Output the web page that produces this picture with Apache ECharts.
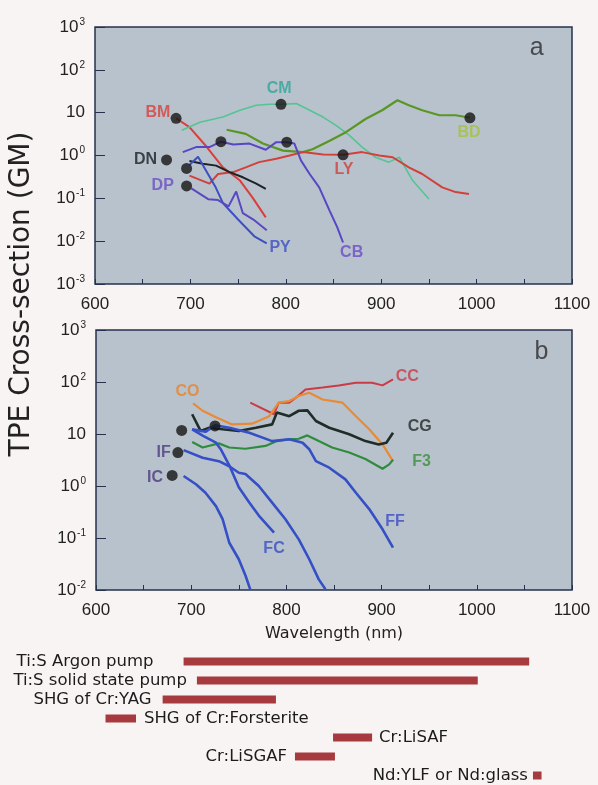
<!DOCTYPE html>
<html>
<head>
<meta charset="utf-8">
<script src="https://cdn.jsdelivr.net/npm/echarts@6/dist/echarts.min.js"></script>
<style>
html,body{margin:0;padding:0;background:#f8f4f3;}
#main{width:598px;height:785px;}
</style>
</head>
<body>
<div id="main"></div>
<script>
// panel a curves: [wavelength nm, TPE cross-section GM]
var bmA = [[685,7.4],[699,4.6],[717,1.6],[734,0.53],[752,0.26],[765,0.105],[779,0.036]];
var cmA = [[691,3.9],[710,6.0],[734,7.9],[752,11.4],[769,14.9],[783,15.7],[795,15.7],[811,16.3],[825,11.4],[839,7.9],[853,5.0],[867,2.9],[880,1.57],[894,0.91],[908,0.70],[919,0.91],[933,0.26],[950,0.096]];
var bdA = [[738,4.0],[758,3.2],[776,1.9],[797,1.3],[818,1.2],[828,1.4],[846,2.2],[863,3.5],[884,7.2],[901,11.4],[917,19.5],[929,14.9],[943,11.4],[961,8.7],[978,8.7],[993,7.6]];
var lyA = [[699,0.34],[720,0.22],[729,0.37],[745,0.41],[758,0.53],[772,0.70],[790,0.84],[804,1.0],[818,1.2],[839,1.05],[860,1.04],[880,1.2],[898,1.0],[912,0.91],[929,0.53],[943,0.37],[964,0.18],[978,0.14],[992,0.126]];
var cbA = [[692,1.2],[706,1.57],[720,1.57],[732,2.1],[745,1.8],[762,1.9],[779,1.36],[790,2.05],[801,2.05],[809,1.9],[816,0.76],[825,0.37],[835,0.18],[846,0.051],[854,0.021],[860,0.0093]];
var dnA = [[699,0.74],[713,0.64],[727,0.58],[741,0.41],[755,0.31],[769,0.22],[779,0.166]];
var pyA = [[699,0.6],[708,0.93],[726,0.19],[734,0.078],[750,0.032],[767,0.013],[780,0.0089]];
var dpA = [[701,0.17],[719,0.095],[729,0.091],[740,0.065],[748,0.145],[755,0.045],[766,0.032],[780,0.018]];
var dotsA = [[685,7.4],[795,15.7],[993,7.6],[860,1.04],[732,2.1],[801,2.05],[675,0.79],[696,0.50],[696,0.195]];

// panel b curves
var ccB = [[762,40],[787,24],[792,40],[803,40],[810,50],[820,72],[838,78],[855,86],[873,97],[890,97],[901,86],[912,112]];
var coB = [[702,39],[712,28],[726,21],[743,15.3],[764,15.8],[782,22],[792,40],[803,43],[813,54],[824,62],[838,46],[859,40],[873,22],[887,12.3],[901,6.3],[912,3.0]];
var cgB = [[701,24],[710,11.4],[719,13.2],[733,12.3],[750,11.4],[768,13.2],[785,15.3],[790,26],[803,22],[813,28],[822,28.5],[831,17.8],[845,13.2],[866,9.9],[883,7.3],[897,6.3],[905,6.8],[912,10.6]];
var f3B = [[701,7.0],[712,5.5],[729,6.6],[740,5.5],[757,5.2],[778,5.9],[790,7.3],[803,7.9],[813,8.1],[822,9.4],[834,7.3],[848,5.5],[866,4.4],[883,3.3],[901,2.15],[908,2.6],[912,3.2]];
var ffB = [[701,12.3],[715,11],[725,14.7],[740,13.2],[761,10.6],[785,7.3],[803,7.9],[817,6.8],[824,5.1],[831,3.0],[845,2.25],[862,1.34],[873,0.74],[887,0.36],[901,0.147],[912,0.065]];
var fcB = [[701,12.3],[713,9.1],[726,6.8],[731,5.1],[740,2.5],[750,0.95],[761,0.48],[771,0.27],[787,0.127]];
var ifB = [[692,4.9],[712,3.5],[729,3.0],[740,2.4],[750,1.8],[757,1.7],[771,1.0],[785,0.48],[799,0.23],[813,0.094],[824,0.039],[834,0.016],[841,0.0103]];
var icB = [[692,1.56],[705,1.08],[715,0.74],[726,0.41],[733,0.23],[740,0.081],[750,0.039],[757,0.019],[762,0.0103]];
var dotsB = [[690,11.7],[725,14.3],[686,4.4],[680,1.6]];

// curve names placed at [wavelength, GM]
var labelsA = [['BM',666,9.8],['CM',793,37],['BD',992,3.5],['DN',653,0.81],['DP',671,0.2],['LY',861,0.46],['PY',794,0.0072],['CB',869,0.0055]];
var labelsB = [['CC',927,126],['CO',696,65],['CG',940,14],['F3',942,2.9],['IF',671,4.4],['IC',662,1.45],['FC',787,0.063],['FF',914,0.21]];

// laser tuning ranges (nm)
var lasers = ['Ti:S Argon pump','Ti:S solid state pump','SHG of Cr:YAG','SHG of Cr:Forsterite','Cr:LiSAF','Cr:LiSGAF','Nd:YLF or Nd:glass'];
var laserStart = [692,706,670,610,849,809,1059];
var laserEnd = [1055,1001,789,642,890,851,1068];
var laserLabelSide = ['left','left','left','right','right','left','left'];
var laserLabelGap = [30,10,11,8,7,8,5];

var colors = {
  BM:'#d8403c', CM:'#55c493', BD:'#5a9624', LY:'#d2403a', CB:'#5747c4', DN:'#1e2226', PY:'#3d50c2', DP:'#5a48c2',
  CC:'#cc3b45', CO:'#e98a35', CG:'#1f2c27', F3:'#2f8c3d', FF:'#3550c6', FC:'#3550c6', IF:'#3550c6', IC:'#3550c6'
};
var labelColors = {
  BM:'#d8403c', CM:'#2fa597', BD:'#a4c23a', DN:'#1b1f24', DP:'#6a4cc6', LY:'#d13f3a', PY:'#3d4fc0', CB:'#6b4bc6',
  CC:'#cc3b45', CO:'#e6852f', CG:'#1f2a26', F3:'#3a8f3a', IF:'#4e3b80', IC:'#4e3b80', FC:'#3a4cc4', FF:'#3a4cc4'
};

var curves = [
  ['BM',bmA,0,2],['CM',cmA,0,1.6],['BD',bdA,0,2.2],['LY',lyA,0,2],['CB',cbA,0,2],['DN',dnA,0,2],['PY',pyA,0,2],['DP',dpA,0,2],
  ['CC',ccB,1,2],['CO',coB,1,2.2],['CG',cgB,1,2.6],['F3',f3B,1,2.2],['FF',ffB,1,2.6],['FC',fcB,1,2.6],['IF',ifB,1,2.6],['IC',icB,1,2.6]
];

var border = '#26324d';
var font = 'Liberation Sans, Arial, sans-serif';
var wide = 'DejaVu Sans, sans-serif';

function xAx(i, extra) {
  var a = {
    gridIndex: i, type: 'value', min: 600, max: 1100, interval: 50,
    axisLine: {show: false},
    axisTick: {inside: true, length: 5, lineStyle: {color: border}},
    axisLabel: {fontSize: 17, color: '#222', margin: 12, formatter: function (v) { return v % 100 === 0 ? v : ''; }},
    splitLine: {show: false}
  };
  return Object.assign(a, extra || {});
}
function yAx(i, min, split) {
  return {
    gridIndex: i, type: 'log', logBase: 10, min: min, max: 1000, splitNumber: split,
    axisLine: {show: false},
    axisTick: {inside: true, length: 10, lineStyle: {color: border}},
    splitLine: {show: false},
    axisLabel: {
      color: '#222', fontSize: 17, margin: 10,
      formatter: function (v) {
        var e = Math.round(Math.log10(v));
        return e === 1 ? '10' : '10{sup|' + e + '}';
      },
      rich: {sup: {fontSize: 10, color: '#222', verticalAlign: 'top', padding: [0, 0, 10, 1]}}
    }
  };
}

var series = [];
curves.forEach(function (c) {
  series.push({
    type: 'line', name: c[0], data: c[1], xAxisIndex: c[2], yAxisIndex: c[2],
    showSymbol: false, silent: true, z: 2,
    lineStyle: {color: colors[c[0]], width: c[3]}
  });
});
[dotsA, dotsB].forEach(function (d, i) {
  series.push({
    type: 'scatter', data: d, xAxisIndex: i, yAxisIndex: i, symbolSize: 11, z: 5,
    itemStyle: {color: '#141414'}
  });
});
[labelsA, labelsB].forEach(function (L, i) {
  series.push({
    type: 'scatter', xAxisIndex: i, yAxisIndex: i, symbolSize: 0, z: 6,
    data: L.map(function (l) {
      return {value: [l[1], l[2]], name: l[0], label: {color: labelColors[l[0]]}};
    }),
    label: {show: true, position: 'inside', formatter: '{b}', fontSize: 16, fontWeight: 'bold', fontFamily: font}
  });
});
// panel letters
series.push({
  type: 'scatter', xAxisIndex: 0, yAxisIndex: 0, symbolSize: 0,
  data: [{value: [1063, 320], name: 'a'}],
  label: {show: true, position: 'inside', formatter: '{b}', fontSize: 25, color: '#2a2a2a'}
});
series.push({
  type: 'scatter', xAxisIndex: 1, yAxisIndex: 1, symbolSize: 0,
  data: [{value: [1068, 372], name: 'b'}],
  label: {show: true, position: 'inside', formatter: '{b}', fontSize: 25, color: '#2a2a2a'}
});
// laser ranges as floating bars
series.push({
  type: 'bar', xAxisIndex: 2, yAxisIndex: 2, stack: 'r', barWidth: 8, silent: true,
  itemStyle: {color: 'transparent'}, data: laserStart
});
series.push({
  type: 'bar', xAxisIndex: 2, yAxisIndex: 2, stack: 'r', barWidth: 8, silent: true,
  itemStyle: {color: '#a63a3e'},
  data: laserEnd.map(function (e, k) {
    return {value: e - laserStart[k], label: {position: laserLabelSide[k], distance: laserLabelGap[k]}};
  }),
  label: {show: true, fontSize: 16.5, color: '#1c1c1c', fontFamily: wide,
    formatter: function (p) { return lasers[p.dataIndex]; }}
});

var gridStyle = {show: true, backgroundColor: '#b8c2cc', borderColor: border, borderWidth: 1.5};
var option = {
  backgroundColor: '#f8f4f3',
  animation: false,
  textStyle: {fontFamily: font},
  grid: [
    Object.assign({left: 95, right: 26, top: 27, height: 257}, gridStyle),
    Object.assign({left: 96, right: 26, top: 330, height: 260}, gridStyle),
    {left: 96, right: 26, top: 652, height: 133}
  ],
  xAxis: [
    xAx(0),
    xAx(1, {name: 'Wavelength (nm)', nameLocation: 'middle', nameGap: 36,
      nameTextStyle: {fontSize: 16, color: '#222', fontFamily: wide}}),
    {gridIndex: 2, type: 'value', min: 600, max: 1100, show: false}
  ],
  yAxis: [
    yAx(0, 0.001, 6),
    yAx(1, 0.01, 5),
    {gridIndex: 2, type: 'category', data: lasers, inverse: true, show: false}
  ],
  graphic: [{
    type: 'text', x: 22, y: 294, rotation: Math.PI / 2,
    style: {text: 'TPE Cross-section (GM)', fontSize: 28, fontFamily: wide, fill: '#222',
      align: 'center', verticalAlign: 'middle', textAlign: 'center', textVerticalAlign: 'middle'}
  }],
  series: series
};

var myChart = echarts.init(document.getElementById('main'));
myChart.setOption(option);
</script>
</body>
</html>
